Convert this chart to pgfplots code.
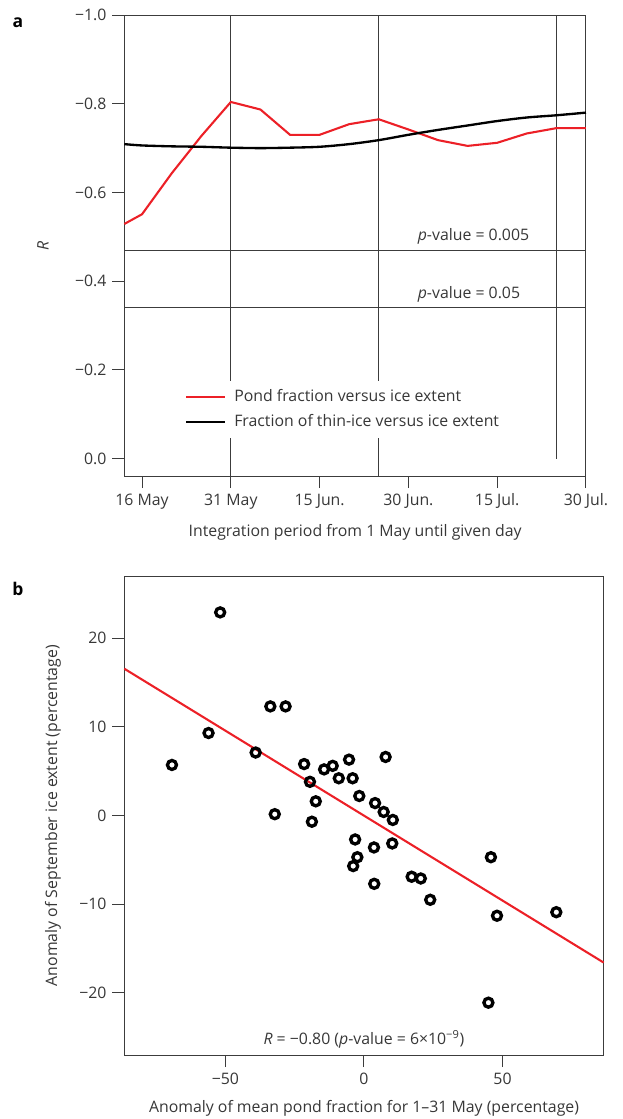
\documentclass[border=0pt]{standalone}
\usepackage{fontspec}
\setmainfont{Open Sans}
\usepackage{pgfplots}
\pgfplotsset{compat=1.18}
\definecolor{pondred}{RGB}{236,32,39}
\definecolor{txt}{RGB}{55,55,55}
\definecolor{frame}{RGB}{60,60,60}

\pgfplotsset{
  common/.style={
    scale only axis,
    tick align=outside,
    xtick pos=left, ytick pos=left,
    major tick length=7.2pt,
    axis line style={frame, line width=0.6pt},
    tick style={frame, line width=0.6pt},
    tick label style={font=\fontsize{9.5}{11}\selectfont, text=txt},
    label style={font=\fontsize{9.5}{11}\selectfont, text=txt},
    clip=false,
  },
}

\begin{document}
\begin{tikzpicture}[font=\fontsize{9.5}{11}\selectfont]
\useasboundingbox (0,0) rectangle (373.2pt,-671.4pt);
\node[font=\fontsize{10.5}{12}\selectfont\bfseries] at (10.8pt,-13.6pt) {a};
\node[font=\fontsize{10.5}{12}\selectfont\bfseries] at (10.8pt,-353.4pt) {b};

% panel a
\begin{axis}[common,
  at={(74.58pt,-285.6pt)}, anchor=south west,
  width=277pt, height=276.6pt,
  xmin=12, xmax=90,
  y dir=reverse, ymin=-1.0, ymax=0.039,
  xtick={15,30,45,60,75,90},
  xticklabels={16 May, 31 May, 15 Jun., 30 Jun., 15 Jul., 30 Jul.},
  ytick={-1,-0.8,-0.6,-0.4,-0.2,0},
  yticklabels={−1.0,−0.8,−0.6,−0.4,−0.2,0.0},
  xlabel={Integration period from 1 May until given day},
  ylabel={\textit{R}},
  xlabel style={at={(axis description cs:0.5,-0.123)}, anchor=center},
  ylabel style={at={(axis description cs:-0.176,0.5)}, anchor=center},
  legend style={at={(0.1206,0.207)}, anchor=north west, draw=none,
    fill=white, font=\fontsize{9.5}{11}\selectfont, text=txt,
    row sep=2.6pt, inner xsep=3pt, inner ysep=3pt,
    nodes={inner xsep=5pt}},
  legend cell align=left,
  legend image code/.code={\draw[#1] (-2pt,0pt) -- (21pt,0pt);},
]
  \addplot[frame, line width=0.6pt, forget plot] coordinates {(30,-1.0) (30,0.039)};
  \addplot[frame, line width=0.6pt, forget plot] coordinates {(55,-1.0) (55,0.039)};
  \addplot[frame, line width=0.6pt, forget plot] coordinates {(85,-1.0) (85,0)};
  \addplot[frame, line width=0.6pt, forget plot] coordinates {(12,-0.47) (90,-0.47)};
  \addplot[frame, line width=0.6pt, forget plot] coordinates {(12,-0.34) (90,-0.34)};

  \addplot[pondred, line width=1.25pt] coordinates {
    (12,-0.529) (15,-0.551) (20,-0.643) (25,-0.727) (30,-0.804)
    (35,-0.787) (40,-0.730) (45,-0.730) (50,-0.754) (55,-0.765)
    (60,-0.742) (65,-0.718) (70,-0.705) (75,-0.712) (80,-0.733)
    (85,-0.745) (90,-0.745)
  };
  \addlegendentry{Pond fraction versus ice extent}
  \addplot[black, line width=1.4pt, smooth] coordinates {
    (12,-0.709) (15,-0.706) (20,-0.704) (25,-0.703) (30,-0.701)
    (35,-0.700) (40,-0.701) (45,-0.703) (50,-0.709) (55,-0.718)
    (60,-0.730) (65,-0.741) (70,-0.751) (75,-0.761) (80,-0.769)
    (85,-0.774) (90,-0.780)
  };
  \addlegendentry{Fraction of thin-ice versus ice extent}

  \node[anchor=base west, text=txt] at (axis cs:60.6,-0.491) {\textit{p}-value = 0.005};
  \node[anchor=base west, text=txt] at (axis cs:60.6,-0.361) {\textit{p}-value = 0.05};
\end{axis}

% panel b
\begin{axis}[common,
  at={(74.58pt,-633pt)}, anchor=south west,
  width=287.64pt, height=287.4pt,
  xmin=-86.5, xmax=86.5,
  ymin=-27, ymax=27,
  xtick={-50,0,50}, xticklabels={−50,0,50},
  ytick={-20,-10,0,10,20}, yticklabels={−20,−10,0,10,20},
  xlabel={Anomaly of mean pond fraction for 1–31 May (percentage)},
  ylabel={Anomaly of September ice extent (percentage)},
  xlabel style={at={(axis description cs:0.5,-0.1106)}, anchor=center},
  ylabel style={at={(axis description cs:-0.1487,0.5)}, anchor=center},
]
  \addplot[pondred, line width=1.25pt] coordinates {(-86.5,16.55) (86.5,-16.58)};
  \addplot[only marks, mark=o, mark size=2.7pt,
    mark options={draw=black, line width=2pt, fill=none}] coordinates {
    (-51.9,22.9) (-69.3,5.7) (-56.1,9.3) (-39.1,7.1) (-33.8,12.3)
    (-28.3,12.3) (-32.2,0.15) (-21.6,5.8) (-19.5,3.8) (-17.4,1.6)
    (-18.8,-0.7) (-14.4,5.2) (-11.3,5.6) (-9.1,4.2) (-5.4,6.3)
    (-4.1,4.2) (-1.7,2.2) (7.8,6.6) (4.0,1.4) (7.1,0.4)
    (10.4,-0.5) (-3.2,-2.7) (3.6,-3.6) (10.2,-3.15) (-2.4,-4.7)
    (-3.9,-5.7) (3.7,-7.7) (17.2,-6.9) (20.5,-7.1) (23.9,-9.5)
    (45.8,-4.7) (48.0,-11.3) (69.4,-10.9) (44.9,-21.1)
  };
  \node[anchor=base, text=txt] at (axis cs:0,-25.87)
    {\textit{R} = −0.80 (\textit{p}-value = 6×10\textsuperscript{−9})};
\end{axis}
\end{tikzpicture}
\end{document}
